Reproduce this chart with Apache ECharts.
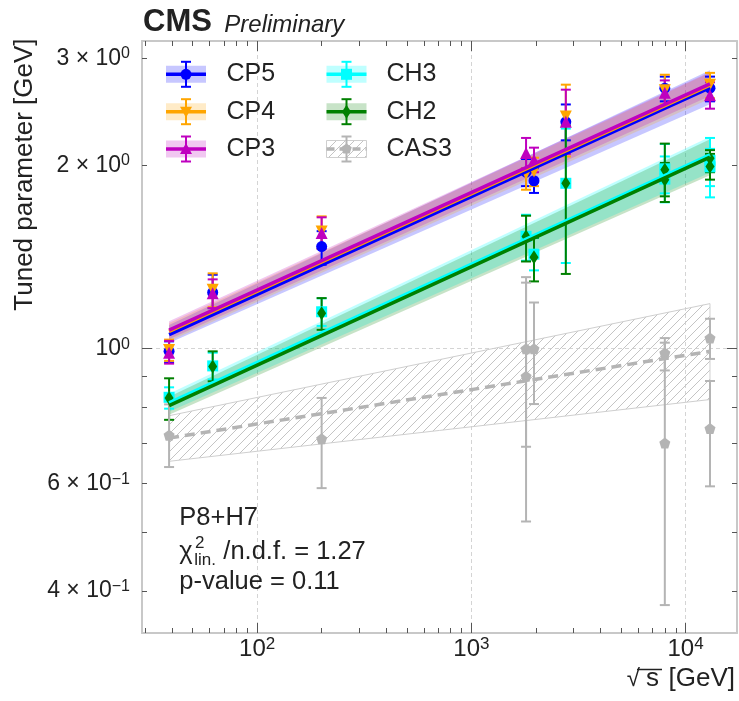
<!DOCTYPE html>
<html>
<head>
<meta charset="utf-8">
<script src="https://cdn.jsdelivr.net/npm/echarts@6/dist/echarts.min.js"></script>
<style>
  html, body { margin: 0; padding: 0; background: #fff; }
  #chart { width: 739px; height: 701px; }
</style>
</head>
<body>
<div id="chart"></div>
<script>
// ---------------------------------------------------------------
// Energy dependence of the tuned parameter, P8+H7 tunes
// ---------------------------------------------------------------
const FONT = '"Liberation Sans", Arial, Helvetica, sans-serif';
const TEXT = '#222';

// Axis ranges
const X_MIN = 29.0, X_MAX = 17380;
const Y_MIN = 0.341, Y_MAX = 3.204;

// Ticks and tick labels
const xMajorTicks = [100, 1000, 10000];
const xTickLabels = [['10', '2'], ['10', '3'], ['10', '4']];
const xMinorTicks = [30, 40, 50, 60, 70, 80, 90, 200, 300, 400, 500, 600, 700, 800, 900,
                     2000, 3000, 4000, 5000, 6000, 7000, 8000, 9000];
const yMajorTicks = [1];
const yMinorTicks = [0.4, 0.5, 0.6, 0.7, 0.8, 0.9, 2, 3];
const yLabelTicks = [0.4, 0.6, 1, 2, 3];
const yTickLabels = [['4 × 10', '\u22121'], ['6 × 10', '\u22121'], ['10', '0'], ['2 × 10', '0'], ['3 × 10', '0']];

// Tuned values: [sqrt(s) GeV, value, low, high]
const cp5Points = [
  [38.8, 0.990, 0.949, 1.028],
  [62, 1.237, 1.166, 1.323],
  [200, 1.472, 1.374, 1.560],
  [1800, 1.950, 1.850, 2.050],
  [1960, 1.888, 1.803, 1.980],
  [2760, 2.360, 2.200, 2.520],
  [8000, 2.680, 2.550, 2.800],
  [13000, 2.680, 2.550, 2.800]
];
const cp4Points = [
  [38.8, 0.995, 0.955, 1.035],
  [62, 1.250, 1.170, 1.330],
  [200, 1.558, 1.460, 1.650],
  [1800, 1.938, 1.825, 2.060],
  [1960, 1.955, 1.850, 2.060],
  [2760, 2.407, 2.070, 2.716],
  [8000, 2.660, 2.520, 2.820],
  [13000, 2.714, 2.580, 2.840]
];
const cp3Points = [
  [38.8, 0.985, 0.945, 1.030],
  [62, 1.234, 1.166, 1.300],
  [200, 1.549, 1.460, 1.644],
  [1800, 2.098, 1.980, 2.220],
  [1960, 2.043, 1.950, 2.140],
  [2760, 2.360, 2.090, 2.665],
  [8000, 2.633, 2.500, 2.760],
  [13000, 2.610, 2.480, 2.740]
];
const ch3Points = [
  [38.8, 0.832, 0.797, 0.864],
  [62, 0.937, 0.890, 0.985],
  [200, 1.150, 1.090, 1.210],
  [1800, 1.530, 1.395, 1.660],
  [1960, 1.430, 1.345, 1.520],
  [2760, 1.870, 1.383, 2.300],
  [8000, 1.975, 1.800, 2.170],
  [8000, 1.900, 1.740, 2.070],
  [13000, 2.040, 1.773, 2.220],
  [13000, 1.990, 1.850, 2.130]
];
const ch2Points = [
  [38.8, 0.830, 0.764, 0.894],
  [62, 0.935, 0.884, 0.990],
  [200, 1.144, 1.074, 1.211],
  [1800, 1.529, 1.391, 1.654],
  [1960, 1.414, 1.290, 1.522],
  [2760, 1.871, 1.327, 2.326],
  [8000, 1.968, 1.742, 2.173],
  [8000, 1.895, 1.780, 2.020],
  [13000, 2.056, 1.950, 2.120],
  [13000, 1.992, 1.896, 2.090]
];
const cas3Points = [
  [38.8, 0.721, 0.639, 0.810],
  [200, 0.711, 0.590, 0.830],
  [1800, 1.000, 0.690, 1.311],
  [1800, 0.901, 0.520, 1.284],
  [1960, 1.000, 0.811, 1.191],
  [8000, 0.984, 0.921, 1.041],
  [8000, 0.700, 0.379, 1.023],
  [13000, 1.041, 0.962, 1.120],
  [13000, 0.739, 0.594, 0.885]
];

// Power-law fits (straight in log-log): end points
const cp5Fit = [[38.8, 1.055], [13000, 2.686]];
const cp4Fit = [[38.8, 1.068], [13000, 2.712]];
const cp3Fit = [[38.8, 1.073], [13000, 2.725]];
const ch3Fit = [[38.8, 0.815], [13000, 2.083]];
const ch2Fit = [[38.8, 0.806], [13000, 2.064]];
const cas3Fit = [[38.8, 0.713], [13000, 0.990]];

// Fit uncertainty bands: [sqrt(s), low, high]
const cp5Band = [[38.8, 1.022, 1.094], [13000, 2.522, 2.869]];
const cp4Band = [[38.8, 1.029, 1.102], [13000, 2.575, 2.841]];
const cp3Band = [[38.8, 1.036, 1.109], [13000, 2.603, 2.850]];
const ch3Band = [[38.8, 0.788, 0.843], [13000, 1.946, 2.230]];
const ch2Band = [[38.8, 0.779, 0.834], [13000, 1.928, 2.209]];
const cas3Band = [[38.8, 0.653, 0.776], [13000, 0.825, 1.186]];

// Hatch pattern for the CAS3 band
const hatch = document.createElement('canvas');
hatch.width = 9; hatch.height = 9;
(function () {
  const c = hatch.getContext('2d');
  c.strokeStyle = '#c4c4c4';
  c.lineWidth = 1;
  c.beginPath();
  c.moveTo(0, 9); c.lineTo(9, 0);
  c.moveTo(-1, 1); c.lineTo(1, -1);
  c.moveTo(8, 10); c.lineTo(10, 8);
  c.stroke();
})();

const PENTAGON = 'path://M0,-1 L0.951,-0.309 L0.588,0.809 L-0.588,0.809 L-0.951,-0.309 Z';

const tunes = [
  { name: 'CP5', color: '#0000ff', band: 'rgba(0,0,255,0.22)', pts: cp5Points, fit: cp5Fit, bandData: cp5Band,
    symbol: 'circle', size: 11, rotate: 0 },
  { name: 'CP4', color: '#ffa500', band: 'rgba(255,165,0,0.22)', pts: cp4Points, fit: cp4Fit, bandData: cp4Band,
    symbol: 'triangle', size: 12, rotate: 180 },
  { name: 'CP3', color: '#bf00bf', band: 'rgba(191,0,191,0.22)', pts: cp3Points, fit: cp3Fit, bandData: cp3Band,
    symbol: 'triangle', size: 12, rotate: 0 },
  { name: 'CH3', color: '#00ffff', band: 'rgba(0,255,255,0.25)', pts: ch3Points, fit: ch3Fit, bandData: ch3Band,
    symbol: 'rect', size: 11, rotate: 0 },
  { name: 'CH2', color: '#008000', band: 'rgba(0,128,0,0.22)', pts: ch2Points, fit: ch2Fit, bandData: ch2Band,
    symbol: 'diamond', size: [9, 14], rotate: 0 },
  { name: 'CAS3', color: '#b4b4b4', band: null, pts: cas3Points, fit: cas3Fit, bandData: cas3Band,
    symbol: PENTAGON, size: 11, rotate: 0, dashed: true }
];

function findLabel(v, ticks, labels) {
  for (let i = 0; i < ticks.length; i++) {
    if (Math.abs(Math.log10(v) - Math.log10(ticks[i])) < 1e-6) return labels[i];
  }
  return null;
}
function richFmt(ticks, labels) {
  return function (v) {
    const l = findLabel(v, ticks, labels);
    return l ? '{m|' + l[0] + '}{s|' + l[1] + '}' : '';
  };
}
function richStyle(size) {
  return {
    m: { fontSize: size, fontFamily: FONT, color: TEXT, lineHeight: size + 2 },
    s: { fontSize: Math.round(size * 0.7), fontFamily: FONT, color: TEXT, lineHeight: Math.round(size * 0.7), verticalAlign: 'top' }
  };
}

const frameLine = { show: true, lineStyle: { color: '#c8c8c8', width: 2 } };
const noLine = { show: false };

function xAxisDef(pos, ticks, len, opts) {
  return {
    type: 'log', logBase: 10, min: X_MIN, max: X_MAX, position: pos,
    axisLine: opts.line ? frameLine : noLine,
    axisTick: { show: true, inside: true, length: len, customValues: ticks, lineStyle: { color: '#555', width: 1 } },
    axisLabel: opts.labels
      ? { show: true, customValues: xMajorTicks, formatter: richFmt(xMajorTicks, xTickLabels), rich: richStyle(24), margin: 3 }
      : { show: false },
    splitLine: opts.split ? { show: true, lineStyle: { color: '#d4d4d4', type: [4, 3], width: 1 } } : { show: false },
    minorTick: { show: false }, minorSplitLine: { show: false }
  };
}
function yAxisDef(pos, ticks, len, opts) {
  return {
    type: 'log', logBase: 10, min: Y_MIN, max: Y_MAX, position: pos,
    axisLine: opts.line ? frameLine : noLine,
    axisTick: { show: true, inside: true, length: len, customValues: ticks, lineStyle: { color: '#555', width: 1 } },
    axisLabel: opts.labels
      ? { show: true, customValues: yLabelTicks, formatter: richFmt(yLabelTicks, yTickLabels), rich: richStyle(23), margin: 12 }
      : { show: false },
    splitLine: opts.split ? { show: true, lineStyle: { color: '#d4d4d4', type: [4, 3], width: 1 } } : { show: false },
    minorTick: { show: false }, minorSplitLine: { show: false }
  };
}

// Band polygon drawn once from its edge points
function bandSeries(t) {
  const d = t.bandData;
  return {
    type: 'custom', name: t.name + ' band', data: d, xAxisIndex: 0, yAxisIndex: 0,
    encode: { x: 0, y: [1, 2] }, silent: true,
    renderItem: function (params, api) {
      if (params.dataIndex !== 0) return null;
      const lower = d.map(p => api.coord([p[0], p[1]]));
      const upper = d.map(p => api.coord([p[0], p[2]])).reverse();
      const style = t.dashed
        ? { fill: { image: hatch, repeat: 'repeat' }, stroke: '#cfcfcf', lineWidth: 1 }
        : { fill: t.band };
      return { type: 'polygon', shape: { points: lower.concat(upper) }, style: style };
    }
  };
}
function lineSeries(t) {
  return {
    type: 'line', name: t.name, data: t.fit, xAxisIndex: 0, yAxisIndex: 0,
    showSymbol: false, symbol: 'none', silent: true,
    lineStyle: { color: t.color, width: 3.5, type: t.dashed ? [10, 6] : 'solid', cap: 'butt' }
  };
}
function errSeries(t) {
  return {
    type: 'custom', name: t.name + ' err', data: t.pts, xAxisIndex: 0, yAxisIndex: 0,
    encode: { x: 0, y: [2, 3] }, silent: true,
    renderItem: function (params, api) {
      const x = api.value(0);
      const lo = api.coord([x, api.value(2)]);
      const hi = api.coord([x, api.value(3)]);
      const cw = 5;
      const st = { stroke: t.color, lineWidth: 2 };
      return {
        type: 'group', children: [
          { type: 'line', shape: { x1: lo[0], y1: lo[1], x2: hi[0], y2: hi[1] }, style: st },
          { type: 'line', shape: { x1: lo[0] - cw, y1: lo[1], x2: lo[0] + cw, y2: lo[1] }, style: st },
          { type: 'line', shape: { x1: hi[0] - cw, y1: hi[1], x2: hi[0] + cw, y2: hi[1] }, style: st }
        ]
      };
    }
  };
}
function pointSeries(t) {
  return {
    type: 'scatter', name: t.name, data: t.pts.map(p => [p[0], p[1]]), xAxisIndex: 0, yAxisIndex: 0,
    symbol: t.symbol, symbolSize: t.size, symbolRotate: t.rotate, silent: true,
    itemStyle: { color: t.color, opacity: 1 }
  };
}

// All bands sit underneath every line and data point
const series = [];
tunes.forEach(t => series.push(bandSeries(t)));
tunes.forEach(t => {
  series.push(lineSeries(t), errSeries(t), pointSeries(t));
});

// ---- Legend glyphs and text (graphic) ----
const graphics = [];
const legendCols = [{ cx: 186, tx: 226.5 }, { cx: 346.5, tx: 386.5 }];
const legendRows = [74.3, 111.7, 149];

function markerShape(t, cx, cy) {
  const c = t.color;
  switch (t.name) {
    case 'CP5': return { type: 'circle', shape: { cx: cx, cy: cy, r: 5.5 }, style: { fill: c } };
    case 'CP4': return { type: 'polygon', shape: { points: [[cx - 6, cy - 5], [cx + 6, cy - 5], [cx, cy + 6]] }, style: { fill: c } };
    case 'CP3': return { type: 'polygon', shape: { points: [[cx - 6, cy + 5], [cx + 6, cy + 5], [cx, cy - 6]] }, style: { fill: c } };
    case 'CH3': return { type: 'rect', shape: { x: cx - 5.5, y: cy - 5.5, width: 11, height: 11 }, style: { fill: c } };
    case 'CH2': return { type: 'polygon', shape: { points: [[cx, cy - 7], [cx + 4.5, cy], [cx, cy + 7], [cx - 4.5, cy]] }, style: { fill: c } };
    default: {
      const pts = [];
      for (let k = 0; k < 5; k++) {
        const a = -Math.PI / 2 + k * 2 * Math.PI / 5;
        pts.push([cx + 5.5 * Math.cos(a), cy + 5.5 * Math.sin(a)]);
      }
      return { type: 'polygon', shape: { points: pts }, style: { fill: c } };
    }
  }
}

tunes.forEach((t, i) => {
  const col = legendCols[Math.floor(i / 3)];
  const cy = legendRows[i % 3];
  const cx = col.cx;
  const bandStyle = t.dashed
    ? { fill: { image: hatch, repeat: 'repeat' }, stroke: '#cfcfcf', lineWidth: 1 }
    : { fill: t.band };
  graphics.push({ type: 'rect', shape: { x: cx - 20, y: cy - 8.5, width: 40, height: 17 }, style: bandStyle, z: 100 });
  graphics.push({ type: 'line', shape: { x1: cx - 20, y1: cy, x2: cx + 20, y2: cy },
    style: { stroke: t.color, lineWidth: 3.5, lineDash: t.dashed ? [8, 5] : null }, z: 101 });
  const st = { stroke: t.color, lineWidth: 2 };
  graphics.push({ type: 'line', shape: { x1: cx, y1: cy - 12.5, x2: cx, y2: cy + 12.5 }, style: st, z: 102 });
  graphics.push({ type: 'line', shape: { x1: cx - 5, y1: cy - 12.5, x2: cx + 5, y2: cy - 12.5 }, style: st, z: 102 });
  graphics.push({ type: 'line', shape: { x1: cx - 5, y1: cy + 12.5, x2: cx + 5, y2: cy + 12.5 }, style: st, z: 102 });
  const m = markerShape(t, cx, cy); m.z = 103;
  graphics.push(m);
  graphics.push({ type: 'text', x: col.tx, y: cy, z: 103,
    style: { text: t.name, font: '25px ' + FONT, fill: TEXT, textAlign: 'left', textVerticalAlign: 'middle' } });
});

// Header
graphics.push({ type: 'text', x: 143, y: 22.5, z: 110,
  style: { text: 'CMS', font: 'bold 31px ' + FONT, fill: TEXT, textAlign: 'left', textVerticalAlign: 'middle' } });
graphics.push({ type: 'text', x: 224.3, y: 25, z: 110,
  style: { text: 'Preliminary', font: 'italic 24px ' + FONT, fill: TEXT, textAlign: 'left', textVerticalAlign: 'middle' } });

// Axis titles
graphics.push({ type: 'text', x: 25, y: 38.5, rotation: Math.PI / 2, z: 110,
  style: { text: 'Tuned parameter [GeV]', font: '26px ' + FONT, fill: TEXT, textAlign: 'right', textVerticalAlign: 'middle' } });
graphics.push({ type: 'text', x: 735, y: 679, z: 110,
  style: { text: '[GeV]', font: '26px ' + FONT, fill: TEXT, textAlign: 'right', textVerticalAlign: 'middle' } });
graphics.push({ type: 'text', x: 659, y: 679, z: 110,
  style: { text: 's', font: '26px ' + FONT, fill: TEXT, textAlign: 'right', textVerticalAlign: 'middle' } });
graphics.push({ type: 'text', x: 640, y: 679, z: 110,
  style: { text: '\u221A', font: '24px ' + FONT, fill: TEXT, textAlign: 'right', textVerticalAlign: 'middle' } });
graphics.push({ type: 'line', shape: { x1: 637, y1: 669.5, x2: 662, y2: 669.5 }, z: 110,
  style: { stroke: TEXT, lineWidth: 1.5 } });

// Fit summary
const summaryLines = ['P8+H7', '/n.d.f. = 1.27', 'p-value = 0.11'];
graphics.push({ type: 'text', x: 179.3, y: 518, z: 110,
  style: { text: summaryLines[0], font: '25.5px ' + FONT, fill: TEXT, textAlign: 'left', textVerticalAlign: 'middle' } });
graphics.push({ type: 'text', x: 179.3, y: 552, z: 110,
  style: { text: '\u03C7', font: '25.5px ' + FONT, fill: TEXT, textAlign: 'left', textVerticalAlign: 'middle' } });
graphics.push({ type: 'text', x: 195, y: 543, z: 110,
  style: { text: '2', font: '17px ' + FONT, fill: TEXT, textAlign: 'left', textVerticalAlign: 'middle' } });
graphics.push({ type: 'text', x: 194.3, y: 560, z: 110,
  style: { text: 'lin.', font: '17px ' + FONT, fill: TEXT, textAlign: 'left', textVerticalAlign: 'middle' } });
graphics.push({ type: 'text', x: 223.3, y: 552, z: 110,
  style: { text: summaryLines[1], font: '25.5px ' + FONT, fill: TEXT, textAlign: 'left', textVerticalAlign: 'middle' } });
graphics.push({ type: 'text', x: 179.3, y: 582, z: 110,
  style: { text: summaryLines[2], font: '25.5px ' + FONT, fill: TEXT, textAlign: 'left', textVerticalAlign: 'middle' } });

const option = {
  animation: false,
  backgroundColor: '#fff',
  grid: { left: 142, top: 41, width: 595, height: 592, containLabel: false },
  xAxis: [
    xAxisDef('bottom', xMajorTicks, 10, { line: true, labels: true, split: true }),
    xAxisDef('bottom', xMinorTicks, 5, { line: false, labels: false, split: false }),
    xAxisDef('top', xMajorTicks, 10, { line: true, labels: false, split: false }),
    xAxisDef('top', xMinorTicks, 5, { line: false, labels: false, split: false })
  ],
  yAxis: [
    yAxisDef('left', yMajorTicks, 10, { line: true, labels: true, split: true }),
    yAxisDef('left', yMinorTicks, 5, { line: false, labels: false, split: false }),
    yAxisDef('right', yMajorTicks, 10, { line: true, labels: false, split: false }),
    yAxisDef('right', yMinorTicks, 5, { line: false, labels: false, split: false })
  ],
  series: series,
  graphic: { elements: graphics }
};

const chart = echarts.init(document.getElementById('chart'));
chart.setOption(option);
</script>
</body>
</html>
